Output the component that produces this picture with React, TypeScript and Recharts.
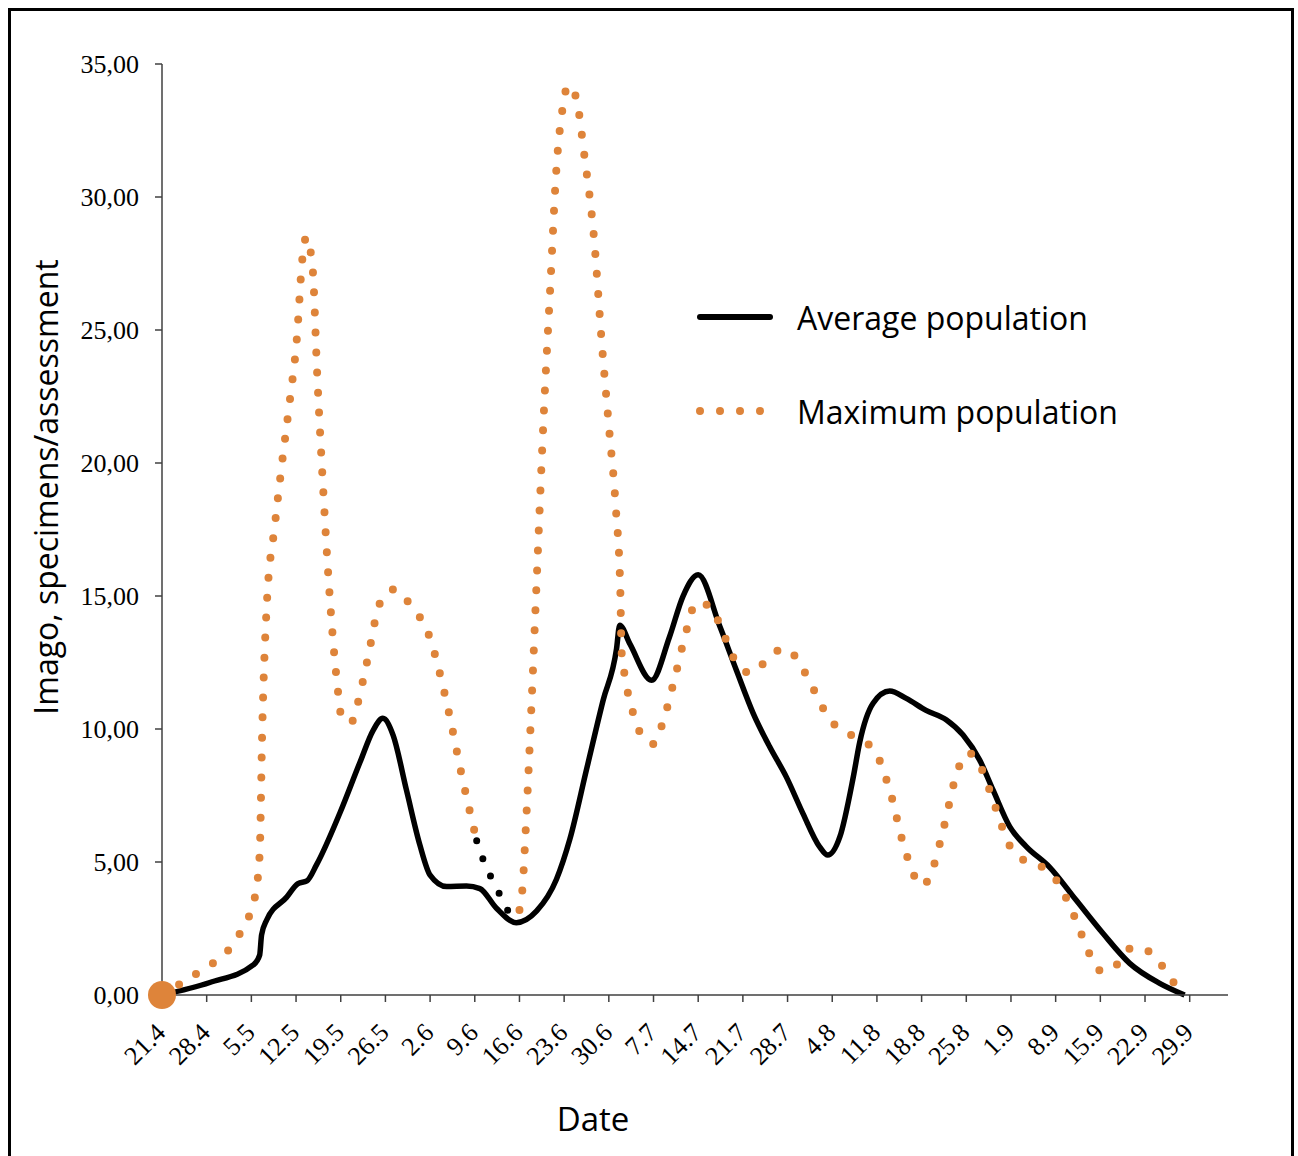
import { CartesianGrid, Line, LineChart, XAxis, YAxis } from 'recharts'

// dates of the weekly ticks (day 0 = 21.4, step 7 days)
const tickLabels = [
  '21.4', '28.4', '5.5', '12.5', '19.5', '26.5', '2.6', '9.6', '16.6', '23.6', '30.6', '7.7',
  '14.7', '21.7', '28.7', '4.8', '11.8', '18.8', '25.8', '1.9', '8.9', '15.9', '22.9', '29.9',
]
const tickDays = tickLabels.map((_, i) => i * 7)
const yTicks = [0, 5, 10, 15, 20, 25, 30, 35]

// average population (days since 21.4, specimens/assessment)
const avgDays = [
  0, 7.5, 14.3, 15.3, 15.6, 16.4, 19.5, 21.3, 22.7, 24.2, 27.9, 31.0, 33.1, 34.6, 36.2, 38.3, 40.4,
  42.0, 44.6, 47.7, 49.8, 52.4, 55.5, 58.7, 61.8, 63.9, 66.5, 69.1, 71.2, 71.7, 73.3, 76.7, 79.5,
  81.6, 84.0, 87.4, 90.0, 92.6, 95.2, 97.8, 100.4, 103.0, 104.3, 106.2, 108.3, 109.3, 111.4, 114.0,
  116.6, 119.7, 122.9, 125.5, 128.1, 130.2, 132.8, 135.4, 139.0, 143.2, 147.4, 151.6, 156.3, 160.2,
]
const avgVals = [
  0, 0.47, 1.13, 1.5, 2.26, 2.82, 3.67, 4.19, 4.29, 4.89, 6.86, 8.74, 9.96, 10.4, 9.77, 7.7, 5.64,
  4.51, 4.08, 4.1, 4.0, 3.26, 2.72, 3.16, 4.35, 5.86, 8.47, 11.07, 13.0, 13.9, 13.2, 11.83, 13.46,
  14.98, 15.8, 13.85, 12.2, 10.6, 9.33, 8.2, 6.83, 5.58, 5.26, 5.95, 8.2, 9.5, 10.97, 11.43,
  11.15, 10.7, 10.34, 9.77, 8.83, 7.7, 6.33, 5.58, 4.82, 3.57, 2.32, 1.19, 0.44, 0,
]

// maximum population, first part
const maxDaysA = [
  0, 2.6, 5.3, 7.9, 10.4, 12.2, 13.7, 14.6, 15.3, 15.7, 16.4, 17.7, 18.8, 20.0, 21.1, 22.0, 22.6,
  23.6, 24.3, 25.3, 26.3, 27.4, 28.3, 29.8, 30.7, 32.1, 34.2, 36.5, 38.8, 42.0, 44.5, 47.1, 49.3,
]
const maxValsA = [
  0, 0.38, 0.79, 1.18, 1.69, 2.31, 3.0, 3.76, 5.3, 9.96, 14.6, 17.7, 20.0, 22.3, 24.6, 27.7, 28.5,
  27.3, 23.4, 18.8, 14.9, 11.8, 10.3, 10.3, 11.0, 12.5, 14.76, 15.25, 14.7, 13.4, 11.1, 8.1, 5.8,
]
// short stretch drawn with black dots
const gapDays = [49.3, 50.3, 51.7, 53.1, 54.6, 56.0]
const gapVals = [5.8, 5.1, 4.35, 3.7, 3.1, 3.2]
// maximum population, second part
const maxDaysB = [
  56.0, 56.5, 57.0, 57.9, 58.7, 59.8, 60.8, 61.8, 62.8, 63.6, 64.8, 66.2, 67.7, 68.9, 70.0, 71.1,
  71.8, 72.0, 72.5, 73.8, 75.3, 77.0, 78.4, 80.1, 82.4, 83.6, 86.0, 87.4, 88.7, 90.0, 92.3, 94.8,
  97.3, 99.6, 101.2, 102.7, 104.2, 106.4, 109.3, 111.8, 114.0, 116.4, 119.1, 120.7, 122.4, 124.7,
  126.3, 128.3, 130.5, 132.7, 134.8, 137.8, 140.1, 143.0, 145.4, 147.3, 149.8, 152.0, 154.7, 156.8,
  158.6, 160.0,
]
const maxValsB = [
  3.2, 4.1, 6.3, 11.0, 15.6, 21.8, 26.5, 31.1, 33.4, 34.2, 33.8, 31.5, 28.4, 24.5, 21.4, 18.3,
  15.2, 12.9, 12.0, 10.6, 9.7, 9.44, 10.2, 11.7, 13.9, 14.75, 14.6, 13.9, 13.16, 12.47, 12.1, 12.6,
  13.03, 12.6, 11.9, 11.2, 10.5, 9.96, 9.62, 9.12, 7.7, 5.45, 4.1, 4.72, 6.23, 8.48, 9.11, 8.55,
  7.1, 5.66, 5.1, 4.82, 4.32, 2.92, 1.5, 0.88, 1.19, 1.79, 1.63, 1.06, 0.44, 0.1,
]

const ORANGE = '#de843a'
const SERIF = '"Liberation Serif", "Times New Roman", serif'
const SANS = '"Open Sans", "Noto Sans", sans-serif'

const zip = (days: number[], vals: number[]) => days.map((d, i) => ({ d, v: vals[i] as number | null }))

const avgData = zip(avgDays, avgVals)
const maxData = [...zip(maxDaysA, maxValsA), { d: 52, v: null }, ...zip(maxDaysB, maxValsB)]
const gapData = zip(gapDays, gapVals)

function DateTick({ x, y, payload }: any) {
  const label = tickLabels[Math.round(payload.value / 7)]
  return (
    <text
      transform={`translate(${x + 5},${y + 30}) rotate(-45)`}
      textAnchor="end"
      fontFamily={SERIF}
      fontSize={26}
      fill="#000"
    >
      {label}
    </text>
  )
}

function FirstDot(props: any) {
  const { cx, cy, index } = props
  if (index !== 0) return <g key={`d${index}`} />
  return <circle key="d0" cx={cx} cy={cy} r={14} fill={ORANGE} />
}

export default function App() {
  return (
    <div style={{ position: 'absolute', left: 0, top: 0, width: 1298, height: 1156, overflow: 'hidden', background: '#fff' }}>
      <div
        style={{
          position: 'absolute',
          left: 8,
          top: 8,
          width: 1280,
          height: 1160,
          border: '3px solid #000',
        }}
      />
      <div style={{ position: 'absolute', left: 0, top: 0 }}>
        <LineChart width={1298} height={1156} margin={{ top: 64, right: 70, left: 0, bottom: 81 }}>
          <CartesianGrid stroke="none" />
          <XAxis
            type="number"
            dataKey="d"
            domain={[0, 167]}
            ticks={tickDays}
            interval={0}
            height={80}
            tick={<DateTick />}
            tickSize={7}
            stroke="#404040"
            strokeWidth={1.5}
            label={{
              content: () => (
                <text x={593} y={1118} textAnchor="middle" dominantBaseline="central" fontFamily={SANS} fontSize={33} fill="#000">
                  Date
                </text>
              ),
            }}
          />
          <YAxis
            type="number"
            domain={[0, 35]}
            ticks={yTicks}
            width={162}
            tickSize={7}
            tickMargin={16}
            stroke="#404040"
            strokeWidth={1.5}
            tick={{ fontFamily: SERIF, fontSize: 26, fill: '#000' }}
            tickFormatter={(v: number) => v.toFixed(2).replace('.', ',')}
            label={{
              content: () => (
                <text
                  x={45}
                  y={487}
                  transform="rotate(-90 45 487)"
                  textAnchor="middle"
                  dominantBaseline="central"
                  fontFamily={SANS}
                  fontSize={32}
                  fill="#000"
                >
                  Imago, specimens/assessment
                </text>
              ),
            }}
          />
          <Line
            data={avgData}
            dataKey="v"
            type="monotone"
            stroke="#000"
            strokeWidth={5.5}
            dot={false}
            isAnimationActive={false}
          />
          <Line
            data={gapData}
            dataKey="v"
            type="monotone"
            stroke="#000"
            strokeWidth={7}
            strokeDasharray="0 19"
            strokeLinecap="round"
            dot={false}
            isAnimationActive={false}
          />
          <Line
            data={maxData}
            dataKey="v"
            type="monotone"
            stroke={ORANGE}
            strokeWidth={8}
            strokeDasharray="0 20"
            strokeLinecap="round"
            dot={<FirstDot />}
            activeDot={false}
            isAnimationActive={false}
          />
        </LineChart>
      </div>
      <div style={{ position: 'absolute', left: 690, top: 294, fontFamily: SANS, fontSize: 32, color: '#000' }}>
        <div style={{ display: 'flex', alignItems: 'center', height: 46 }}>
          <svg width={107} height={20}>
            <line x1={10} y1={10} x2={80} y2={10} stroke="#000" strokeWidth={6} strokeLinecap="round" />
          </svg>
          <span>Average population</span>
        </div>
        <div style={{ display: 'flex', alignItems: 'center', height: 46, marginTop: 48 }}>
          <svg width={107} height={20}>
            {[10, 30, 50, 70].map((cx) => (
              <circle key={cx} cx={cx} cy={10} r={4} fill={ORANGE} />
            ))}
          </svg>
          <span>Maximum population</span>
        </div>
      </div>
    </div>
  )
}
